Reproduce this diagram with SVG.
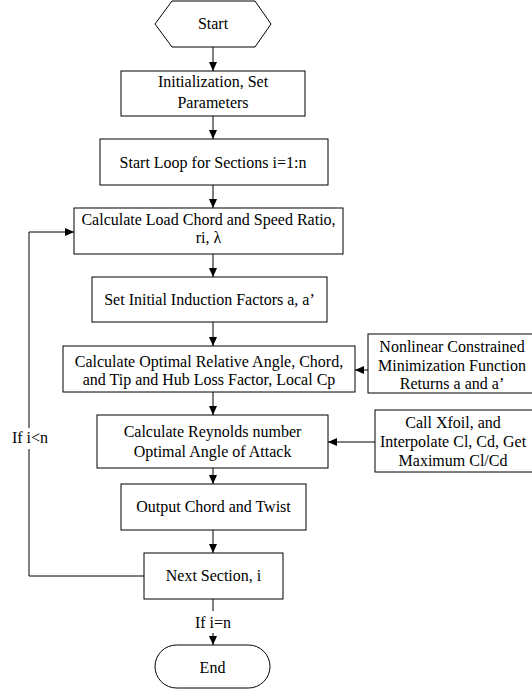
<svg xmlns="http://www.w3.org/2000/svg" width="532" height="689" viewBox="0 0 532 689">
<style>
.n{fill:#fff;stroke:#000;stroke-width:1}
.t{font-family:"Liberation Serif","Times New Roman",serif;font-size:16px;fill:#000;text-anchor:middle}
.c{fill:none;stroke:#000;stroke-width:1}
</style>
<defs>
<marker id="ah" markerUnits="userSpaceOnUse" markerWidth="10" markerHeight="10" refX="9" refY="4" orient="auto">
<path d="M0,0 L9,4 L0,8 Z" fill="#000"/>
</marker>
</defs>
<rect width="532" height="689" fill="#fff"/>
<g id="connectors">
<line class="c" x1="213" y1="47" x2="213" y2="71" marker-end="url(#ah)"/>
<line class="c" x1="213" y1="116" x2="213" y2="139" marker-end="url(#ah)"/>
<line class="c" x1="213" y1="185" x2="213" y2="208" marker-end="url(#ah)"/>
<line class="c" x1="213" y1="254" x2="213" y2="277" marker-end="url(#ah)"/>
<line class="c" x1="213" y1="322" x2="213" y2="346" marker-end="url(#ah)"/>
<line class="c" x1="213" y1="392" x2="213" y2="415" marker-end="url(#ah)"/>
<line class="c" x1="213" y1="468" x2="213" y2="484" marker-end="url(#ah)"/>
<line class="c" x1="213" y1="530" x2="213" y2="553" marker-end="url(#ah)"/>
<line class="c" x1="213" y1="599" x2="213" y2="645" marker-end="url(#ah)"/>
<line class="c" x1="368" y1="370" x2="355" y2="370" marker-end="url(#ah)"/>
<line class="c" x1="375" y1="442" x2="328" y2="442" marker-end="url(#ah)"/>
<polyline class="c" points="144,576 29,576 29,232 74,232" marker-end="url(#ah)"/>
<rect x="10" y="428" width="40" height="21" fill="#fff"/>
<text class="t" x="30" y="443">If i&lt;n</text>
<rect x="190" y="611" width="46" height="22" fill="#fff"/>
<text class="t" x="213" y="628">If i=n</text>
</g>
<g id="start">
<polygon class="n" points="155,24 172,1 255,1 271,24 255,47 172,47"/>
<text class="t" x="213" y="29">Start</text>
</g>
<g id="init">
<rect class="n" x="121" y="71" width="184" height="45"/>
<text class="t" x="213" y="87">Initialization, Set</text>
<text class="t" x="213" y="108">Parameters</text>
</g>
<g id="loop">
<rect class="n" x="100" y="139" width="228" height="46"/>
<text class="t" x="213" y="168">Start Loop for Sections i=1:n</text>
</g>
<g id="calcload">
<rect class="n" x="74" y="208" width="269" height="46"/>
<text class="t" x="208.5" y="225">Calculate Load Chord and Speed Ratio,</text>
<text class="t" x="208.5" y="243">ri,  λ</text>
</g>
<g id="setinit">
<rect class="n" x="92" y="277" width="235" height="45"/>
<text class="t" x="209.5" y="305">Set Initial Induction Factors a, a’</text>
</g>
<g id="calcopt">
<rect class="n" x="63" y="346" width="292" height="46"/>
<text class="t" x="209" y="367">Calculate Optimal Relative Angle, Chord,</text>
<text class="t" x="209" y="385">and Tip and Hub Loss Factor, Local Cp</text>
</g>
<g id="nonlinear">
<rect class="n" x="368" y="334" width="170" height="59"/>
<text class="t" x="452" y="352">Nonlinear Constrained</text>
<text class="t" x="452" y="371">Minimization Function</text>
<text class="t" x="452" y="389">Returns a and a’</text>
</g>
<g id="reynolds">
<rect class="n" x="97" y="415" width="231" height="53"/>
<text class="t" x="212.5" y="437">Calculate Reynolds number</text>
<text class="t" x="212.5" y="457">Optimal Angle of Attack</text>
</g>
<g id="xfoil">
<rect class="n" x="375" y="410" width="163" height="62"/>
<text class="t" x="453" y="428">Call Xfoil, and</text>
<text class="t" x="453" y="447">Interpolate Cl, Cd, Get</text>
<text class="t" x="453" y="466">Maximum Cl/Cd</text>
</g>
<g id="output">
<rect class="n" x="121" y="484" width="185" height="46"/>
<text class="t" x="213.5" y="512">Output Chord and Twist</text>
</g>
<g id="next">
<rect class="n" x="144" y="553" width="139" height="46"/>
<text class="t" x="213.5" y="581">Next Section, i</text>
</g>
<g id="end">
<rect class="n" x="155" y="645" width="115" height="43" rx="21.5" ry="21.5"/>
<text class="t" x="212.5" y="673">End</text>
</g>
</svg>
